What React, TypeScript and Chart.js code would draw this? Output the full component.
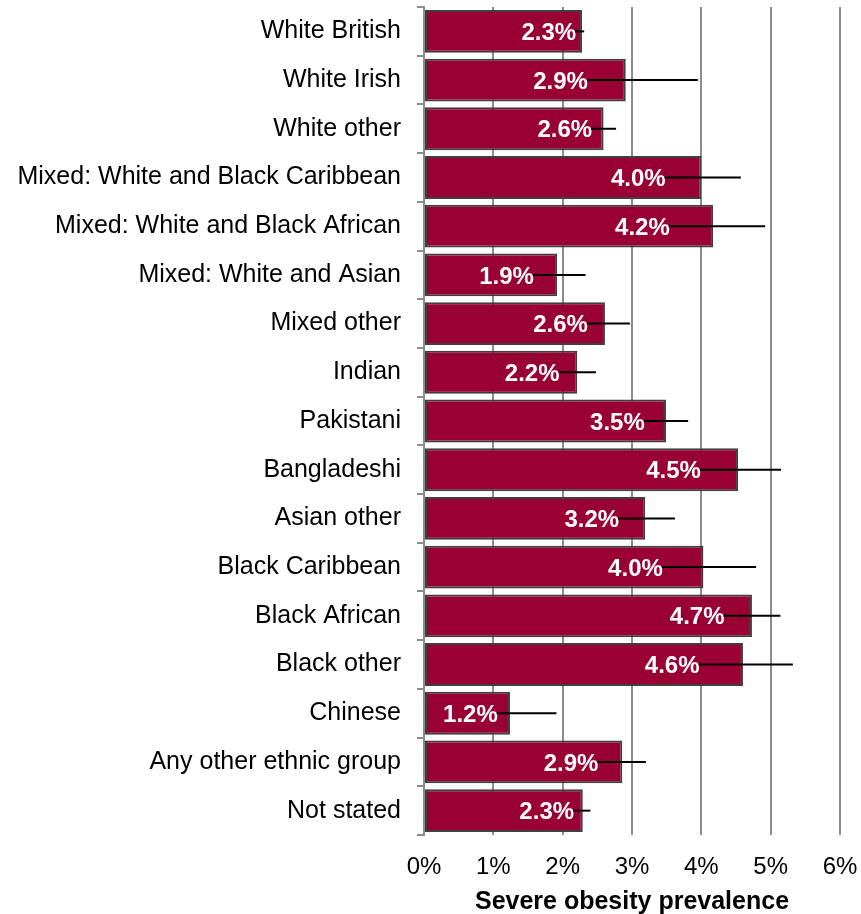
import React, { useEffect, useRef } from 'react';
import { Chart, registerables } from 'chart.js';

Chart.register(...registerables);

const categories = [
  'White British',
  'White Irish',
  'White other',
  'Mixed: White and Black Caribbean',
  'Mixed: White and Black African',
  'Mixed: White and Asian',
  'Mixed other',
  'Indian',
  'Pakistani',
  'Bangladeshi',
  'Asian other',
  'Black Caribbean',
  'Black African',
  'Black other',
  'Chinese',
  'Any other ethnic group',
  'Not stated',
];

const prevalence = [2.28, 2.91, 2.59, 4.0, 4.17, 1.92, 2.61, 2.21, 3.49, 4.53, 3.19, 4.03, 4.73, 4.6, 1.24, 2.86, 2.29];
const ciLower = [2.18, 2.35, 2.41, 3.47, 3.53, 1.57, 2.35, 1.94, 3.17, 3.98, 2.8, 3.43, 4.32, 3.96, 1.05, 2.5, 2.15];
const ciUpper = [2.31, 3.95, 2.77, 4.57, 4.92, 2.33, 2.97, 2.48, 3.81, 5.15, 3.62, 4.79, 5.14, 5.32, 1.91, 3.2, 2.4];

const xMin = 0;
const xMax = 6;
const xStep = 1;
const axisTitle = 'Severe obesity prevalence';

const FONT = '"Liberation Sans", Arial, Helvetica, sans-serif';

const errorBarPlugin = {
  id: 'errorBarsAndLabels',
  afterDatasetsDraw(chart: any) {
    const ctx = chart.ctx;
    const meta = chart.getDatasetMeta(0);
    const xs = chart.scales.x;
    ctx.save();
    meta.data.forEach((bar: any, i: number) => {
      const y = bar.y;
      const xl = xs.getPixelForValue(ciLower[i]);
      const xu = xs.getPixelForValue(ciUpper[i]);
      ctx.font = `bold 24px ${FONT}`;
      ctx.fillStyle = '#ffffff';
      ctx.textAlign = 'right';
      ctx.textBaseline = 'middle';
      ctx.fillText(prevalence[i].toFixed(1) + '%', xl + 1, y + 2);
      ctx.strokeStyle = '#000000';
      ctx.lineWidth = 2;
      ctx.beginPath();
      ctx.moveTo(xl, y);
      ctx.lineTo(xu, y);
      ctx.stroke();
    });
    ctx.restore();
  },
};

export default function App() {
  const ref = useRef<HTMLCanvasElement | null>(null);

  useEffect(() => {
    document.body.style.margin = '0';
    const canvas = ref.current;
    if (!canvas) return;
    const chart = new Chart(canvas, {
      type: 'bar',
      data: {
        labels: categories,
        datasets: [
          {
            data: prevalence,
            backgroundColor: '#990033',
            borderColor: '#3f3f3f',
            borderWidth: 2,
            borderSkipped: false,
            barPercentage: 0.88,
            categoryPercentage: 1,
          },
        ],
      },
      options: {
        indexAxis: 'y',
        responsive: false,
        animation: false,
        devicePixelRatio: 1,
        layout: { padding: { top: 7, right: 21, bottom: 0, left: 0 } },
        plugins: {
          legend: { display: false },
          tooltip: { enabled: false },
          title: { display: false },
        },
        scales: {
          x: {
            type: 'linear',
            min: xMin,
            max: xMax,
            ticks: {
              stepSize: xStep,
              color: '#000000',
              font: { family: FONT, size: 24 },
              padding: 18,
              callback: (v: any) => `${v}%`,
            },
            grid: {
              color: '#8c8c8c',
              lineWidth: 2,
              drawTicks: false,
            },
            border: { display: false },
            title: {
              display: true,
              text: axisTitle,
              color: '#000000',
              font: { family: FONT, size: 25, weight: 'bold' },
              padding: { top: 0, bottom: -3 },
            },
            afterFit: (scale: any) => {
              scale.height = 79;
              scale.paddingLeft = 0;
              scale.paddingRight = 0;
            },
          },
          y: {
            type: 'category',
            offset: true,
            ticks: {
              autoSkip: false,
              color: '#000000',
              font: { family: FONT, size: 25 },
              padding: 16,
            },
            grid: {
              offset: true,
              drawOnChartArea: false,
              drawTicks: true,
              tickLength: 7,
              color: '#8c8c8c',
              lineWidth: 2,
            },
            border: { display: true, color: '#8c8c8c', width: 2 },
            afterFit: (scale: any) => {
              scale.width = 424;
              scale.paddingTop = 0;
              scale.paddingBottom = 0;
            },
          },
        },
      },
      plugins: [errorBarPlugin],
    });
    return () => chart.destroy();
  }, []);

  return (
    <div style={{ width: 861, height: 914 }}>
      <canvas ref={ref} width={861} height={914} style={{ display: 'block' }} />
    </div>
  );
}
